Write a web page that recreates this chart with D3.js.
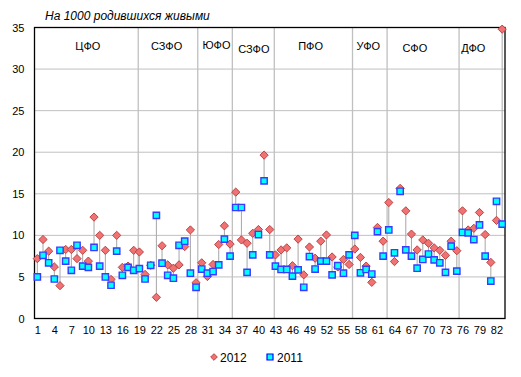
<!DOCTYPE html>
<html>
<head>
<meta charset="utf-8">
<script src="https://cdn.jsdelivr.net/npm/d3@7"></script>
<style>
  body { margin: 0; background: #fff; }
  text { font-family: "Liberation Sans", Arial, sans-serif; fill: #000; }
</style>
</head>
<body>
<svg width="521" height="377"></svg>
<script>
const width = 521, height = 377;
const svg = d3.select("svg");

// region numbers 1..83
const regions = d3.range(1, 84);

// values per 1000 live births
const values2012 = [
  7.2, 9.5, 8.1, 6.2, 3.95, 8.3, 8.3, 7.2, 8.2, 6.9,
  12.2, 10.0, 8.2, 4.7, 10.0, 6.15, 6.3, 8.2, 8.0, 5.3,
  6.4, 2.55, 8.75, 6.45, 6.05, 6.45, 8.65, 10.65, 4.3, 6.7,
  5.05, 6.5, 8.9, 11.15, 8.95, 15.2, 9.45, 9.05, 10.25, 10.7,
  19.65, 10.7, 7.65, 8.25, 8.5, 6.35, 9.55, 5.25, 8.6, 7.25,
  9.3, 10.05, 7.4, 6.2, 7.1, 6.5, 8.35, 7.35, 6.3, 4.35,
  10.95, 9.3, 13.95, 6.85, 15.65, 12.95, 10.15, 8.25, 9.45, 9.05,
  8.5, 8.2, 7.6, 9.3, 8.15, 12.95, 10.65, 10.85, 12.75, 10.1,
  6.75, 11.8, 34.8
];
const values2011 = [
  5.0, 7.6, 6.7, 4.75, 8.2, 6.9, 5.8, 8.8, 6.3, 6.15,
  8.55, 6.3, 5.0, 4.0, 8.1, 5.2, 6.15, 5.8, 6.0, 4.75,
  6.4, 12.4, 6.65, 5.2, 4.85, 8.8, 9.3, 5.45, 3.75, 5.95,
  5.45, 5.65, 6.45, 9.55, 7.5, 13.35, 13.35, 5.55, 7.65, 10.1,
  16.55, 7.65, 6.3, 5.9, 5.9, 5.1, 5.85, 3.75, 7.45, 5.95,
  6.9, 6.9, 5.25, 6.35, 5.45, 7.65, 10.0, 5.5, 5.9, 5.35,
  10.45, 7.5, 10.65, 7.9, 15.3, 8.25, 7.5, 6.05, 7.1, 7.75,
  7.05, 6.7, 5.55, 8.7, 5.7, 10.35, 10.3, 9.5, 11.25, 7.5,
  4.5, 14.1, 11.35
];

const xTicks = d3.range(1, 84, 3);            // 1, 4, 7 ... 82
const yTicks = d3.range(0, 36, 5);            // 0 .. 35

// federal districts: boundary lines (in region units) and label anchors
const districts = ["ЦФО", "СЗФО", "ЮФО", "СЗФО", "ПФО", "УФО", "СФО", "ДФО"];
const districtBorders = [18.8, 29.3, 35.4, 42.8, 56.6, 62.7, 75.4];
const districtLabelAt = [9.9, 23.8, 32.6, 39.2, 49.2, 59.4, 67.6, 77.9];

const data = regions.map((r, i) => ({ r, v12: values2012[i], v11: values2011[i] }));

// scales
const plotLeft = 34.5, plotRight = 505, plotTop = 27.5, plotBottom = 318.5;
const x = d3.scaleLinear().domain([0.5, 83.5]).range([plotLeft, plotRight]);
const y = d3.scaleLinear().domain([0, 35]).range([plotBottom, plotTop]);

// horizontal gridlines
svg.append("g")
  .selectAll("line")
  .data(yTicks.filter(d => d > 0 && d < 35))
  .enter().append("line")
  .attr("x1", plotLeft).attr("x2", plotRight)
  .attr("y1", d => y(d)).attr("y2", d => y(d))
  .attr("stroke", "#c0c0c0").attr("stroke-width", 1);

// district separators
svg.append("g")
  .selectAll("line")
  .data(districtBorders)
  .enter().append("line")
  .attr("x1", d => x(d)).attr("x2", d => x(d))
  .attr("y1", plotTop).attr("y2", plotBottom)
  .attr("stroke", "#c0c0c0").attr("stroke-width", 1.3);

// district labels (the two on the right and the second СЗФО sit a bit lower)
const labelDy = [0, 0, -0.5, 3.5, 0, 0, 2.5, 2.5];
svg.append("g")
  .selectAll("text")
  .data(districts)
  .enter().append("text")
  .attr("x", (d, i) => x(districtLabelAt[i]))
  .attr("y", (d, i) => 49.5 + labelDy[i])
  .attr("text-anchor", "middle")
  .style("font-size", "11px")
  .text(d => d);

// y axis labels
svg.append("g")
  .attr("transform", `translate(${plotLeft},0)`)
  .call(d3.axisLeft(y).tickValues(yTicks).tickSize(0).tickPadding(10))
  .call(g => g.select(".domain").remove())
  .call(g => g.selectAll("text")
    .style("font-size", "11px")
    .style("font-family", "'Liberation Sans', Arial, sans-serif")
    .attr("fill", "#000"));

// x axis labels
svg.append("g")
  .attr("transform", `translate(0,${plotBottom})`)
  .call(d3.axisBottom(x).tickValues(xTicks).tickSize(0).tickPadding(8))
  .call(g => g.select(".domain").remove())
  .call(g => g.selectAll("text")
    .style("font-size", "11px")
    .style("font-family", "'Liberation Sans', Arial, sans-serif")
    .attr("fill", "#000"));

// plot frame
svg.append("rect")
  .attr("x", plotLeft).attr("y", plotTop)
  .attr("width", plotRight - plotLeft).attr("height", plotBottom - plotTop)
  .attr("fill", "none").attr("stroke", "#000").attr("stroke-width", 1.3);

// high-low lines between the two years
svg.append("g")
  .selectAll("line")
  .data(data)
  .enter().append("line")
  .attr("x1", d => x(d.r)).attr("x2", d => x(d.r))
  .attr("y1", d => y(d.v12)).attr("y2", d => y(d.v11))
  .attr("stroke", "#a6a6a6").attr("stroke-width", 1);

const diamond = d3.symbol().type(d3.symbolSquare).size(34);
const square = d3.symbol().type(d3.symbolSquare).size(40);

// 2012 - red diamonds
svg.append("g")
  .selectAll("path")
  .data(data)
  .enter().append("path")
  .attr("d", diamond)
  .attr("transform", d => `translate(${x(d.r)},${y(d.v12)}) rotate(45)`)
  .attr("fill", "#f07272").attr("stroke", "#b84040").attr("stroke-width", 0.9);

// 2011 - cyan squares
svg.append("g")
  .selectAll("path")
  .data(data)
  .enter().append("path")
  .attr("d", square)
  .attr("transform", d => `translate(${x(d.r)},${y(d.v11)})`)
  .attr("fill", "#00ffff").attr("stroke", "#3a3aff").attr("stroke-width", 1.4);

// title
svg.append("text")
  .attr("x", 45).attr("y", 20)
  .style("font-size", "12px")
  .style("font-style", "italic")
  .text("На 1000 родившихся живыми");

// legend
const legend = svg.append("g").attr("transform", "translate(0,357)");
legend.append("path")
  .attr("d", d3.symbol().type(d3.symbolSquare).size(22))
  .attr("transform", "translate(214,0) rotate(45)")
  .attr("fill", "#f07272").attr("stroke", "#b84040").attr("stroke-width", 0.9);
legend.append("text").attr("x", 220).attr("y", 4.5).style("font-size", "12px").text("2012");
legend.append("path")
  .attr("d", d3.symbol().type(d3.symbolSquare).size(36))
  .attr("transform", "translate(270,0)")
  .attr("fill", "#00ffff").attr("stroke", "#0000ff").attr("stroke-width", 1.2);
legend.append("text").attr("x", 277).attr("y", 4.5).style("font-size", "12px").text("2011");
</script>
</body>
</html>
